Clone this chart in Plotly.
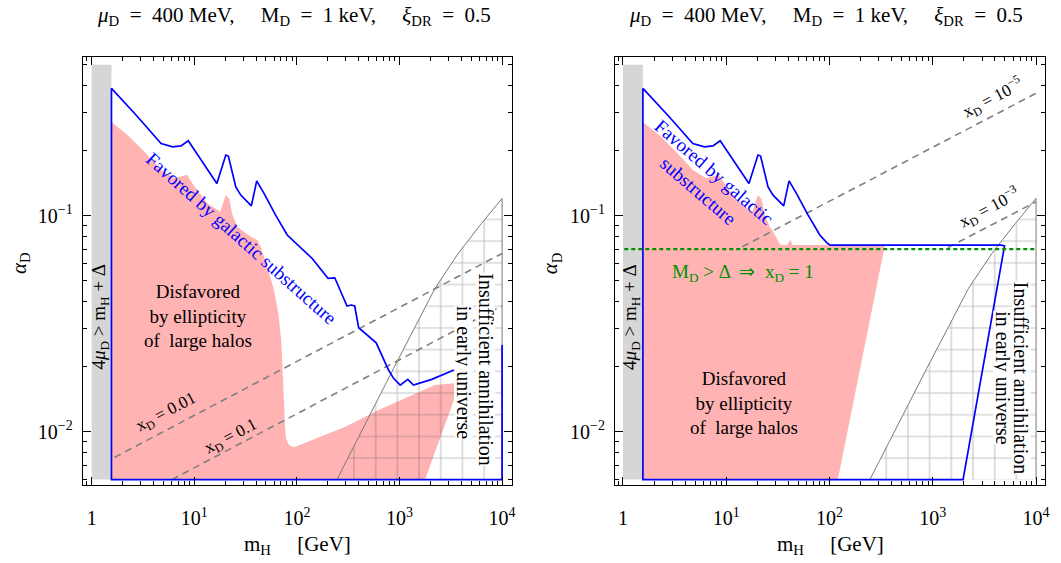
import plotly.graph_objects as go

# ---------------- data ----------------
# galactic-substructure contour (upper boundary), left panel
sub_m = [1.56, 2.72, 4.75, 6.15, 7.43, 8.74, 16.6, 20.3, 21.5, 23.5, 25.4, 28.4, 36.0, 40.6, 47.8,
         62.1, 80.5, 141, 201, 234, 308, 339, 366, 400, 593, 782, 875, 1016, 1205, 1368, 2061, 3396]
sub_a = [0.389, 0.292, 0.216, 0.2085, 0.2104, 0.2224, 0.141, 0.191, 0.189, 0.157, 0.136, 0.1246,
         0.111, 0.145, 0.127, 0.1007, 0.0814, 0.0634, 0.0513, 0.0516, 0.0382, 0.0386, 0.0382,
         0.0303, 0.0258, 0.0193, 0.01766, 0.01644, 0.01747, 0.01644, 0.01747, 0.0193]
# closing edges of the same contour (right edge, bottom, left edge)
sub_edge_m = [1e4, 1e4, 1.56, 1.56]
sub_edge_a = [0.0252, 0.006, 0.006, 0.389]

# galactic-substructure contour, right panel (x_D = 1 plateau)
sub2_m = [1.56, 2.72, 4.75, 6.15, 7.43, 8.74, 16.6, 20.3, 21.5, 23.5, 25.4, 28.4, 36.0, 40.6, 47.8,
          62.1, 80.5, 94.4, 101.5, 4600, 4950, 1964, 1.56, 1.56]
sub2_a = [0.389, 0.292, 0.216, 0.2085, 0.2104, 0.2224, 0.141, 0.191, 0.189, 0.157, 0.136, 0.1246,
          0.111, 0.145, 0.127, 0.1007, 0.0814, 0.0749, 0.0731, 0.0731, 0.0725, 0.006, 0.006, 0.389]

# ellipticity exclusion, left panel
ell_m = [1.56, 1.56, 2.25, 3.27, 4.75, 6.39, 8.49, 10.0, 13.5, 17.9, 20.3, 21.9, 23.6, 26.3, 35.5,
         41.2, 44.4, 51.5, 59.8, 65.9, 70.4, 73.1, 74.8, 76.4, 78.2, 83.6, 93.5, 141, 297, 625,
         1318, 2218, 3396, 3396, 1775]
ell_a = [0.006, 0.272, 0.236, 0.198, 0.163, 0.149, 0.155, 0.137, 0.114, 0.1043, 0.1246, 0.120,
         0.1007, 0.0889, 0.080, 0.0771, 0.0719, 0.0581, 0.0453, 0.0353, 0.0266, 0.0193, 0.0140,
         0.01094, 0.00932, 0.00868, 0.00846, 0.00915, 0.01055, 0.01259, 0.01479, 0.01644,
         0.01675, 0.0140, 0.006]

# ellipticity exclusion, right panel
ell2_m = [1.56, 1.56, 2.25, 3.27, 4.75, 6.39, 8.49, 10.0, 13.5, 17.9, 20.3, 21.9, 23.6, 26.3, 27.8,
          33.4, 38.8, 41.8, 44.0, 344, 120.5]
ell2_a = [0.006, 0.272, 0.236, 0.198, 0.163, 0.149, 0.155, 0.137, 0.114, 0.1043, 0.1246, 0.120,
          0.1007, 0.0889, 0.086, 0.0731, 0.0731, 0.0771, 0.0731, 0.0731, 0.006]

# insufficient annihilation in the early universe (hatched)
ann_m = [246, 500, 875, 1420, 2218, 3741, 6300, 1e4, 1e4]
ann_a = [0.006, 0.01173, 0.01964, 0.0306, 0.0461, 0.067, 0.0921, 0.1203, 0.006]

# 4 mu_D > m_H + Delta band
band_m = [1, 1.56, 1.56, 1]
band_a = [0.006, 0.006, 0.5, 0.5]

# contours of constant x_D
xd001_m, xd001_a = [1.67, 1e4], [0.0076, 0.0669]
xd01_m, xd01_a = [6.05, 1e4], [0.006, 0.0383]
xd1e5_m, xd1e5_a = [14.3, 1e4], [0.0718, 0.369]
xd1e3_m, xd1e3_a = [1400, 1e4], [0.0712, 0.116]

# M_D > Delta threshold
md_m, md_a = [1.03, 1e4], [0.0701, 0.0701]

x_ticks = [1, 10, 100, 1000, 10000]
x_ticktext = ["1", "10<sup>1</sup>", "10<sup>2</sup>", "10<sup>3</sup>", "10<sup>4</sup>"]
y_ticks = [0.01, 0.1]
y_ticktext = ["10<sup>\u22122</sup>", "10<sup>\u22121</sup>"]

# ---------------- styling ----------------
W, H = 1061, 563
FONT = "Liberation Serif"
PINK = "#ffb3b3"
GREY_BAND = "#d6d6d6"
BLUE = "#0000ff"
DASH_GREY = "#808080"
GREEN = "#009000"


def px(x):
    return x / W


def py(y):
    return 1 - y / H


x_minor = [0.9] + [k * 10 ** d for d in range(0, 4) for k in range(2, 10)]
y_minor = [0.006, 0.007, 0.008, 0.009] + [k * 0.01 for k in range(2, 10)] + [k * 0.1 for k in range(2, 6)]

fig = go.Figure()


def add_panel(xa, ya, sub, ell, dashed):
    # band
    fig.add_trace(go.Scatter(x=band_m, y=band_a, mode="lines", fill="toself", fillcolor=GREY_BAND,
                             line=dict(width=0), xaxis=xa, yaxis=ya, hoverinfo="skip"))
    # ellipticity
    fig.add_trace(go.Scatter(x=ell[0], y=ell[1], mode="lines", fill="toself", fillcolor=PINK,
                             line=dict(width=0), xaxis=xa, yaxis=ya, hoverinfo="skip"))
    # hatched annihilation region
    fig.add_trace(go.Scatter(x=ann_m, y=ann_a, mode="lines", fill="toself",
                             fillcolor="rgba(0,0,0,0)",
                             fillpattern=dict(shape="+", size=21.7, solidity=0.1,
                                              fgcolor="rgba(60,60,60,0.62)",
                                              bgcolor="rgba(0,0,0,0)"),
                             line=dict(color="#7a7a7a", width=1), xaxis=xa, yaxis=ya,
                             hoverinfo="skip"))
    for dm, da in dashed:
        fig.add_trace(go.Scatter(x=dm, y=da, mode="lines",
                                 line=dict(color=DASH_GREY, width=1.6, dash="7px,5px"),
                                 xaxis=xa, yaxis=ya, hoverinfo="skip"))
    for sm, sa in sub:
        fig.add_trace(go.Scatter(x=sm, y=sa, mode="lines", line=dict(color=BLUE, width=1.7),
                                 xaxis=xa, yaxis=ya, hoverinfo="skip"))


add_panel("x", "y", [(sub_m, sub_a), (sub_edge_m, sub_edge_a)], (ell_m, ell_a),
          [(xd001_m, xd001_a), (xd01_m, xd01_a)])
add_panel("x2", "y2", [(sub2_m, sub2_a)], (ell2_m, ell2_a),
          [(xd1e5_m, xd1e5_a), (xd1e3_m, xd1e3_a)])
fig.add_trace(go.Scatter(x=md_m, y=md_a, mode="lines", line=dict(color=GREEN, width=2.2, dash="4px,3px"),
                         xaxis="x2", yaxis="y2", hoverinfo="skip"))

tickfont = dict(family=FONT, size=20, color="black")


def xaxis(domain, rng):
    return dict(type="log", domain=domain, range=rng, showline=True, linecolor="black", linewidth=1,
                mirror="allticks", ticks="inside", ticklen=8, tickwidth=1, tickcolor="black",
                tickvals=x_ticks, ticktext=x_ticktext, tickfont=tickfont, showgrid=False,
                zeroline=False, ticklabelstandoff=15,
                minor=dict(tickvals=x_minor, ticks="inside", ticklen=4, tickcolor="black",
                           showgrid=False))


def yaxis(anchor):
    return dict(type="log", domain=[py(485), py(56.7)], range=[-2.2469, -0.2636], anchor=anchor,
                showline=True, linecolor="black", linewidth=1, mirror="allticks", ticks="inside",
                ticklen=8, tickwidth=1, tickcolor="black", tickvals=y_ticks, ticktext=y_ticktext,
                tickfont=tickfont, showgrid=False, zeroline=False, ticklabelstandoff=5,
                minor=dict(tickvals=y_minor, ticks="inside", ticklen=4, tickcolor="black",
                           showgrid=False))


fig.update_layout(
    width=W, height=H, margin=dict(l=0, r=0, t=0, b=0),
    paper_bgcolor="white", plot_bgcolor="white", showlegend=False,
    xaxis=xaxis([px(83), px(514)], [-0.0874, 4.0971]) | dict(anchor="y"),
    yaxis=yaxis("x"),
    xaxis2=xaxis([px(617.3), px(1049.3)], [-0.0772, 4.0899]) | dict(anchor="y2"),
    yaxis2=yaxis("x2"),
)

BODY = dict(family=FONT, size=19, color="black")


def note(x, y, text, font=BODY, angle=0, **kw):
    fig.add_annotation(x=px(x), y=py(y), xref="paper", yref="paper", text=text, showarrow=False,
                       font=font, textangle=angle, xanchor="center", yanchor="middle", **kw)


GAP = "     "
title = (f"<i>\u03bc</i><sub>D</sub>  =  400 MeV,{GAP}M<sub>D</sub>  =  1 keV,{GAP}"
         "<i>\u03be</i><sub>DR</sub>  =  0.5")
TITLE_FONT = dict(family=FONT, size=21, color="black")
LABEL_FONT = dict(family=FONT, size=21, color="black")
for cx, gx in [(295, 0), (829.5, 533.3)]:
    note(cx, 16, title, font=TITLE_FONT)
for cx, gx in [(298.5, 0), (833.3, 533.3)]:
    note(cx, 545, "m<sub>H</sub>     [GeV]", font=LABEL_FONT)
    note(20 + gx, 263, "<i>\u03b1</i><sub>D</sub>", font=LABEL_FONT, angle=-90)
    note(100 + gx, 317, "4<i>\u03bc</i><sub>D</sub> > m<sub>H</sub> + \u0394", angle=-90)

WIDE = dict(family=FONT, size=20, color="black")
# left panel labels
note(198.3, 316, "Disfavored<br>by ellipticity<br>of  large halos")
note(242.5, 238, "Favored by galactic substructure", font=dict(family=FONT, size=19, color=BLUE),
     angle=41.7)
note(487.5, 369, "Insufficient annihilation", font=WIDE, angle=90, bgcolor="white", borderpad=0,
     height=18)
note(466, 372, "in early universe", font=WIDE, angle=90, bgcolor="white", borderpad=0, height=17)
SMALL = dict(family=FONT, size=17, color="black")
note(166.7, 413, "x<sub>D</sub> = 0.01", font=SMALL, angle=-27.7)
note(232.3, 437, "x<sub>D</sub> = 0.1", font=SMALL, angle=-27.7)

# right panel labels
note(746.7, 403, "Disfavored<br>by ellipticity<br>of  large halos")
note(709, 182, "Favored by galactic<br>substructure", font=dict(family=FONT, size=19, color=BLUE),
     angle=40.7)
note(1025.5, 377.5, "Insufficient annihilation", font=WIDE, angle=90, bgcolor="white", borderpad=0,
     height=18)
note(1006, 377.5, "in early universe", font=WIDE, angle=90, bgcolor="white", borderpad=0, height=17)
note(746, 273, "M<sub>D</sub> > \u0394  \u21d2  x<sub>D</sub> = 1",
     font=dict(family=FONT, size=19, color=GREEN))
note(996.7, 97, "x<sub>D</sub> = 10<sup>\u22125</sup>", font=SMALL, angle=-27.7)
note(993.3, 208, "x<sub>D</sub> = 10<sup>\u22123</sup>", font=SMALL, angle=-27.7)

fig.write_html("out.html")
